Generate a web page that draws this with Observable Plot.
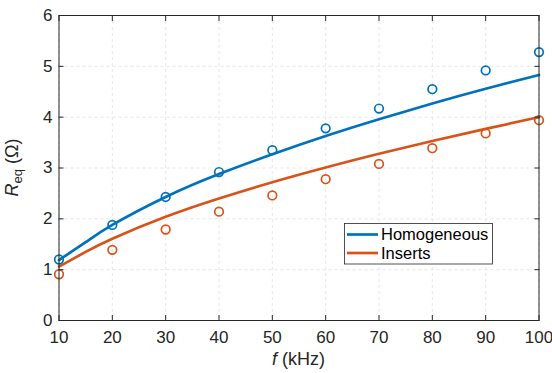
<!DOCTYPE html>
<html>
<head>
<meta charset="utf-8">
<script src="https://cdn.jsdelivr.net/npm/d3@7"></script>
<script src="https://cdn.jsdelivr.net/npm/@observablehq/plot@0.6"></script>
<style>
  html, body { margin: 0; padding: 0; background: #fff; }
  #chart { width: 552px; height: 373px; }
</style>
</head>
<body>
<div id="chart"></div>
<script>
// measured points
const freq = [10, 20, 30, 40, 50, 60, 70, 80, 90, 100];
const homMeas = [1.20, 1.88, 2.43, 2.92, 3.35, 3.78, 4.17, 4.55, 4.92, 5.28];
const insMeas = [0.91, 1.39, 1.79, 2.14, 2.46, 2.78, 3.08, 3.39, 3.68, 3.94];
// model curves
const fitFreq = [10, 15, 20, 30, 40, 50, 60, 70, 80, 90, 100];
const homFit = [1.19, 1.54, 1.88, 2.43, 2.88, 3.27, 3.63, 3.96, 4.27, 4.56, 4.83];
const insFit = [1.06, 1.35, 1.61, 2.04, 2.40, 2.72, 3.01, 3.28, 3.53, 3.77, 4.00];
const seriesNames = ["Homogeneous", "Inserts"];
const seriesColors = ["#0072BD", "#D95319"];
const xTicks = [10, 20, 30, 40, 50, 60, 70, 80, 90, 100];
const yTicks = [0, 1, 2, 3, 4, 5, 6];

const meas = freq.flatMap((f, i) => [
  {f, r: homMeas[i], s: seriesNames[0]},
  {f, r: insMeas[i], s: seriesNames[1]}
]);
const fit = [
  ...fitFreq.map((f, i) => ({f, r: homFit[i], s: seriesNames[0]})),
  ...fitFreq.map((f, i) => ({f, r: insFit[i], s: seriesNames[1]}))
];

const axisColor = "#262626";
const font = "'Liberation Sans', Arial, Helvetica, sans-serif";
const fs = 17;

const plot = Plot.plot({
  width: 552,
  height: 373,
  marginLeft: 58.5,
  marginRight: 13.5,
  marginTop: 15,
  marginBottom: 53,
  style: {fontFamily: font, fontSize: fs + "px", color: axisColor, background: "#fff"},
  x: {domain: [10, 100], ticks: xTicks},
  y: {domain: [0, 6], ticks: yTicks},
  color: {domain: seriesNames, range: seriesColors},
  marks: [
    Plot.gridX(xTicks, {stroke: "#d6d6d6", strokeOpacity: 1, strokeDasharray: "3,3", strokeWidth: 0.6}),
    Plot.gridY(yTicks, {stroke: "#d6d6d6", strokeOpacity: 1, strokeDasharray: "3,3", strokeWidth: 0.6}),
    Plot.line(fit, {x: "f", y: "r", stroke: "s", strokeWidth: 2.7, curve: "natural"}),
    Plot.dot(meas, {x: "f", y: "r", stroke: "s", r: 4.3, strokeWidth: 1.7, fill: "none"}),
    Plot.frame({stroke: axisColor, strokeWidth: 1}),
    Plot.axisX(xTicks, {anchor: "bottom", tickSize: -5, stroke: axisColor, label: null, tickFormat: () => ""}),
    Plot.axisX(xTicks, {anchor: "top", tickSize: -5, stroke: axisColor, label: null, tickFormat: () => ""}),
    Plot.axisY(yTicks, {anchor: "left", tickSize: -5, stroke: axisColor, label: null, tickFormat: () => ""}),
    Plot.axisY(yTicks, {anchor: "right", tickSize: -5, stroke: axisColor, label: null, tickFormat: () => ""}),
    Plot.axisX(xTicks, {anchor: "bottom", tickSize: 0, tickPadding: 10, label: null, fill: axisColor, fontSize: fs, tickFormat: d3.format("d")}),
    Plot.axisY(yTicks, {anchor: "left", tickSize: 0, tickPadding: 6.5, label: null, fill: axisColor, fontSize: fs, tickFormat: d3.format("d")})
  ]
});

document.getElementById("chart").appendChild(plot);

const svg = d3.select(plot);
const xs = plot.scale("x"), ys = plot.scale("y");

// x label
const xl = svg.append("text")
  .attr("x", (xs.apply(10) + xs.apply(100)) / 2)
  .attr("y", 365)
  .attr("text-anchor", "middle")
  .attr("font-family", font)
  .attr("font-size", "18px")
  .attr("fill", axisColor);
xl.append("tspan").attr("font-style", "italic").text("f");
xl.append("tspan").text(" (kHz)");

// y label
const yc = (ys.apply(0) + ys.apply(6)) / 2;
const yl = svg.append("text")
  .attr("transform", `translate(18,${yc}) rotate(-90)`)
  .attr("text-anchor", "middle")
  .attr("font-family", font)
  .attr("font-size", "18px")
  .attr("fill", axisColor);
yl.append("tspan").attr("font-style", "italic").text("R");
yl.append("tspan").attr("font-size", "13px").attr("dy", 4).text("eq");
yl.append("tspan").attr("dy", -4).text(" (Ω)");

// legend
const lg = svg.append("g");
lg.append("rect")
  .attr("x", 344.5).attr("y", 223.5).attr("width", 148).attr("height", 40.5)
  .attr("fill", "#fff").attr("stroke", axisColor).attr("stroke-width", 0.8);
seriesNames.forEach((name, i) => {
  const yy = 234.5 + i * 18.5;
  lg.append("line")
    .attr("x1", 347).attr("x2", 378).attr("y1", yy).attr("y2", yy)
    .attr("stroke", seriesColors[i]).attr("stroke-width", 2.7);
  lg.append("text")
    .attr("x", 381).attr("y", yy)
    .attr("dy", "0.36em")
    .attr("text-anchor", "start")
    .attr("font-family", font).attr("font-size", "16.5px")
    .attr("fill", "#000")
    .text(name);
});
</script>
</body>
</html>
